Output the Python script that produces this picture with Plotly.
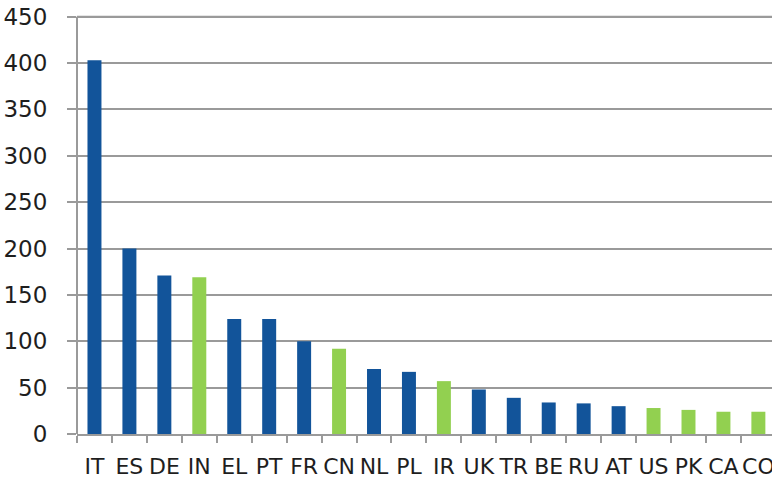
import plotly.graph_objects as go

countries = ["IT", "ES", "DE", "IN", "EL", "PT", "FR", "CN", "NL", "PL",
             "IR", "UK", "TR", "BE", "RU", "AT", "US", "PK", "CA", "CO"]
values = [403, 200, 171, 169, 124, 124, 100, 92, 70, 67,
          57, 48, 39, 34, 33, 30, 28, 26, 24, 24]
region = ["Europe", "Europe", "Europe", "Other", "Europe", "Europe", "Europe", "Other", "Europe", "Europe",
          "Other", "Europe", "Europe", "Europe", "Europe", "Europe", "Other", "Other", "Other", "Other"]
region_colors = {"Europe": "#12549a", "Other": "#92d050"}
y_ticks = [0, 50, 100, 150, 200, 250, 300, 350, 400, 450]

fig = go.Figure(go.Bar(
    x=countries,
    y=values,
    marker=dict(color=[region_colors[r] for r in region], line=dict(width=0)),
    showlegend=False,
))

fig.update_layout(
    width=772, height=481,
    margin=dict(l=77, r=0, t=12, b=47),
    paper_bgcolor="white", plot_bgcolor="white",
    bargap=0.6,
    font=dict(family="DejaVu Sans", size=22, color="#1e1e1e"),
)
fig.update_xaxes(
    type="category",
    range=[-0.5, 19.39],
    automargin=False,
    tickangle=0,
    showline=True, linecolor="#9a9a9a", linewidth=2,
    ticks="outside", tickson="boundaries", ticklen=7, tickcolor="#9a9a9a", tickwidth=2,
    showgrid=False,
    ticklabelstandoff=12,
)
fig.update_yaxes(
    range=[0, 455],
    automargin=False,
    tickvals=y_ticks,
    tickfont=dict(size=23),
    showline=False,
    showgrid=True, gridcolor="#9a9a9a", gridwidth=2,
    ticks="outside", ticklen=9, tickcolor="#9a9a9a", tickwidth=2,
    zeroline=False,
    ticklabelstandoff=15,
)
# y-axis line spanning 0..450 like the reference (drawn in data coordinates)
fig.add_shape(type="line", xref="paper", yref="y", x0=0, x1=0, y0=0, y1=y_ticks[-1],
              line=dict(color="#9a9a9a", width=2), layer="above")
# top gridline at the last tick value
fig.add_shape(type="line", xref="paper", yref="y", x0=0, x1=1, y0=y_ticks[-1], y1=y_ticks[-1],
              line=dict(color="#9a9a9a", width=2), layer="above")

fig.write_html(
    "out.html",
    config={"displayModeBar": False},
    post_script="document.body.style.margin='0';document.body.style.overflow='hidden';",
)
